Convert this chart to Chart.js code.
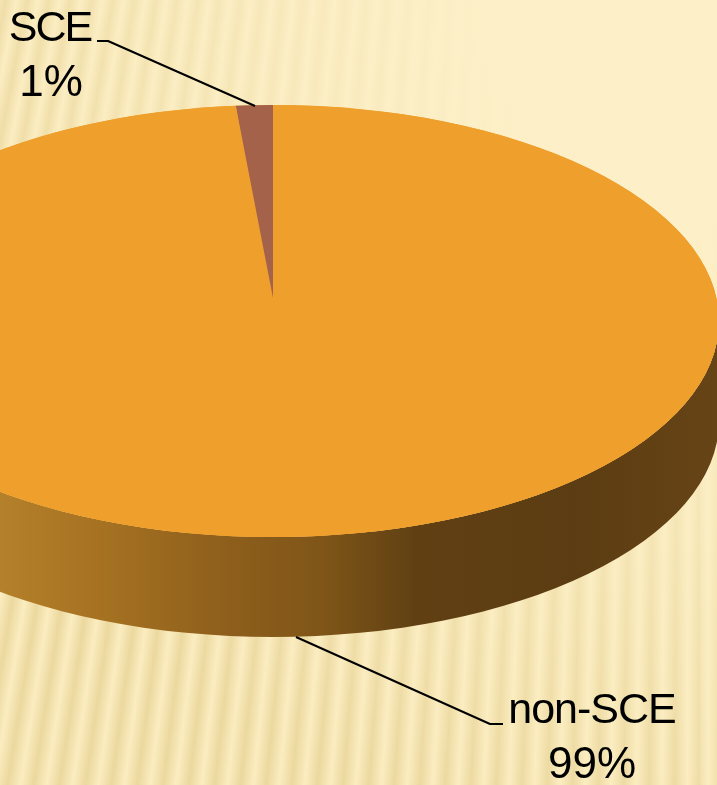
<!DOCTYPE html>
<html>
<head>
<meta charset="utf-8">
<script src="https://cdn.jsdelivr.net/npm/chart.js@4"></script>
<style>
html,body{margin:0;padding:0;width:717px;height:785px;overflow:hidden}
#stage{position:relative;width:717px;height:785px;overflow:hidden;
background:
 radial-gradient(circle 860px at 717px 0px, rgba(253,240,200,.98) 25%, rgba(253,240,200,.68) 55%, rgba(253,240,200,.15) 100%),
 repeating-conic-gradient(from 180deg at 700px -3500px, #e8d497 0deg, #fbecbf .17deg, #e8d497 .34deg);
}
canvas{position:absolute;left:-173px;top:0}
</style>
</head>
<body>
<div id="stage"><canvas id="c" width="892" height="892"></canvas></div>
<script>
const categories = ["SCE", "non-SCE"];
const shareValues = [1.33, 98.67];
const percentLabels = ["1%", "99%"];
const sliceColors = ["#a4624a", "#ef9f2c"];

const CY = 321, TOP_RY = 216, WEDGE_APEX = 298, DEPTH = 100;

const pie3d = {
  id: "pie3d",
  beforeDatasetsDraw(chart) {
    const ctx = chart.ctx, arc = chart.getDatasetMeta(0).data[1];
    const cx = arc.x, r = arc.outerRadius;
    ctx.save();
    // side wall
    const g = ctx.createLinearGradient(cx - 273, 0, cx + 444, 0);
    g.addColorStop(0, "#b5802a");
    g.addColorStop(0.14, "#a67222");
    g.addColorStop(0.30, "#90601c");
    g.addColorStop(0.45, "#7f5518");
    g.addColorStop(0.58, "#604013");
    g.addColorStop(0.80, "#5c3c12");
    g.addColorStop(1, "#664416");
    ctx.fillStyle = g;
    ctx.beginPath();
    ctx.ellipse(cx, CY, r, TOP_RY, 0, 0, Math.PI);
    ctx.ellipse(cx, CY + DEPTH, r, TOP_RY, 0, Math.PI, 0, true);
    ctx.closePath();
    ctx.fill();
    // top face base
    ctx.fillStyle = sliceColors[1];
    ctx.beginPath();
    ctx.ellipse(cx, CY, r, TOP_RY, 0, 0, Math.PI * 2);
    ctx.fill();
    ctx.restore();
    // flatten the pie into perspective
    ctx.save();
    ctx.translate(0, CY);
    ctx.scale(1, TOP_RY / r);
    ctx.translate(0, -arc.y);
    const wedge = chart.getDatasetMeta(0).data[0];
    if (!wedge._wrapped) {
      const draw = wedge.draw;
      const sy = (WEDGE_APEX - (CY - TOP_RY)) / r;
      wedge.draw = function (c) {
        c.save();
        // the slice apex sits above the ellipse centre
        c.setTransform(1, 0, 0, sy, 0, WEDGE_APEX - arc.y * sy);
        draw.call(this, c);
        c.restore();
      };
      wedge._wrapped = true;
    }
  },
  afterDatasetsDraw(chart) {
    chart.ctx.restore();
  },
  afterDraw(chart) {
    const ctx = chart.ctx, ox = 173;
    const line = pts => {
      ctx.beginPath();
      pts.forEach((p, i) => i ? ctx.lineTo(p[0] + ox, p[1]) : ctx.moveTo(p[0] + ox, p[1]));
      ctx.stroke();
    };
    const label = (text, x, y, size, spacing) => {
      ctx.font = size + 'px "Liberation Sans"';
      ctx.letterSpacing = spacing + "px";
      ctx.fillText(text, x + ox, y);
    };
    ctx.save();
    ctx.strokeStyle = "#000";
    ctx.lineWidth = 2;
    ctx.lineJoin = "round";
    line([[97, 41], [108, 41], [255, 106]]);
    line([[296, 637], [490, 724], [503, 724]]);
    ctx.fillStyle = "#000";
    ctx.textAlign = "center";
    ctx.textBaseline = "alphabetic";
    label(categories[0], 50, 41, 43, -2);
    label(percentLabels[0], 51, 96, 44, 0);
    label(categories[1], 592, 723, 43, -1);
    label(percentLabels[1], 592, 778, 44, 0);
    ctx.restore();
  }
};

new Chart(document.getElementById("c"), {
  type: "pie",
  data: {
    labels: categories,
    datasets: [{ data: shareValues, backgroundColor: sliceColors, borderWidth: 0, offset: 0 }]
  },
  options: {
    responsive: false,
    animation: false,
    rotation: -360 * shareValues[0] / 100,
    layout: { padding: 0 },
    plugins: { legend: { display: false }, tooltip: { enabled: false } }
  },
  plugins: [pie3d]
});
</script>
</body>
</html>
